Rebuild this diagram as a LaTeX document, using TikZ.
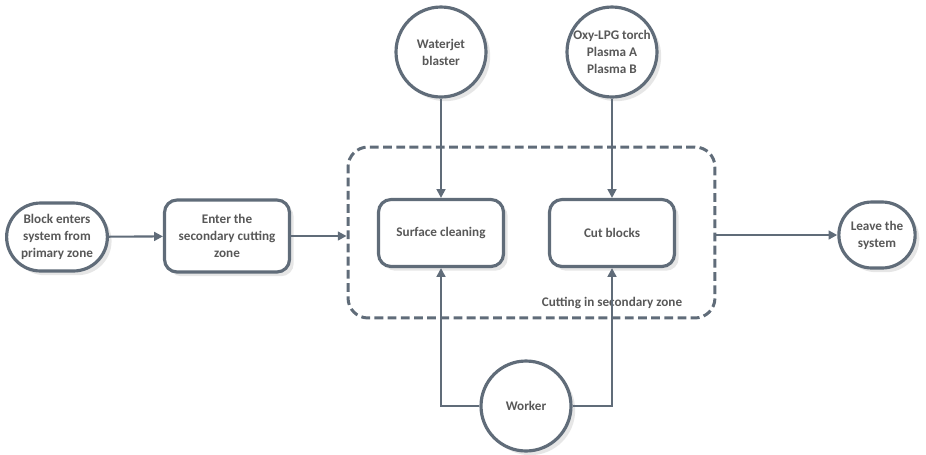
\documentclass[tikz,border=0pt]{standalone}
\usepackage{fontspec}
\setmainfont{Carlito}
\usetikzlibrary{calc,shadows,shapes.misc,arrows.meta}
\definecolor{edgegray}{RGB}{96,108,121}
\definecolor{textgray}{RGB}{88,88,88}
\tikzset{
  label/.style={font=\fontsize{7.5}{9.6}\selectfont\bfseries,text=textgray,align=center},
  terminal/.style={label,rounded rectangle,draw=edgegray,line width=1.8pt,fill=white,drop shadow={opacity=0.2}},
  process/.style={label,rectangle,rounded corners=0.25cm,draw=edgegray,line width=1.8pt,fill=white,drop shadow={opacity=0.2},minimum width=2.5cm},
  resource/.style={label,circle,draw=edgegray,line width=1.8pt,fill=white,drop shadow={opacity=0.2},minimum size=1.8cm,inner sep=0pt},
  zone/.style={draw=edgegray,line width=1.7pt,dash pattern=on 5pt off 2.5pt,rounded corners=0.4cm},
  flow/.style={draw=edgegray,line width=1.2pt,-{Triangle[length=5pt,width=5pt]}}
}

\begin{document}
\begin{tikzpicture}[x=0.02cm,y=-0.02cm]
      \useasboundingbox (0,0) rectangle (926,454);
      \node[zone,minimum width=7.34cm,minimum height=3.42cm] (cutzone) at (531.5,232.5) {};
      \node[label] (zonelabel) at (612,303) {Cutting in secondary zone};
      \node[terminal,minimum width=2cm,minimum height=1.36cm] (block) at (57,237) {Block enters\\system from\\primary zone};
      \node[process,minimum height=1.44cm] (enter) at (227,236) {Enter the\\secondary cutting\\zone};
      \node[process,minimum height=1.34cm] (clean) at (441,233) {Surface cleaning};
      \node[process,minimum height=1.34cm] (cut) at (612,233) {Cut blocks};
      \node[terminal,minimum width=1.76cm,minimum height=1.32cm] (leave) at (877,235) {Leave the\\system};
      \node[resource] (waterjet) at (441,52) {Waterjet\\blaster};
      \node[resource] (torch) at (612,52) {Oxy-LPG torch\\Plasma A\\Plasma B};
      \node[resource] (worker) at (526,406) {Worker};
      \draw[flow] (block) -- (enter);
      \draw[flow] (enter.east) -- (enter.east -| cutzone.west);
      \draw[flow] (cutzone.east |- leave.west) -- (leave.west);
      \draw[flow] (waterjet) -- (clean);
      \draw[flow] (torch) -- (cut);
      \draw[flow] (worker.west) -| (clean.south);
      \draw[flow] (worker.east) -| (cut.south);
    \end{tikzpicture}
\end{document}
